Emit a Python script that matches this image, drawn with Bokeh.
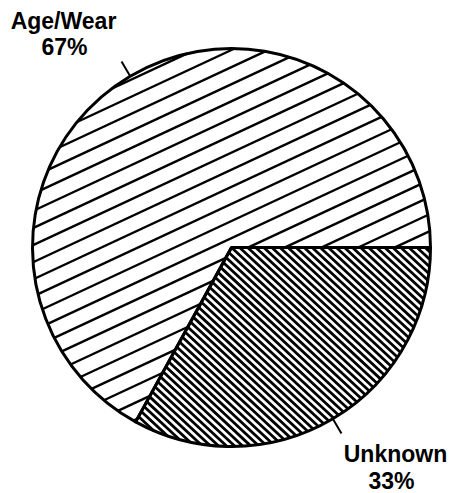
import numpy as np
from bokeh.plotting import figure
from bokeh.models import Range1d
from bokeh.core.properties import value
from bokeh.embed import file_html
from bokeh.resources import INLINE

# Causes and their shares (percent)
labels = ["Age/Wear", "Unknown"]
shares = [67, 33]

W, H = 450, 493
cx, cy, R = 231, 246, 199

p = figure(width=W, height=H, x_range=Range1d(0, W), y_range=Range1d(0, H),
           output_backend="svg", toolbar_location=None, min_border=0,
           outline_line_color=None, background_fill_color="white")
p.axis.visible = False
p.grid.visible = False

# slice angles: "Unknown" runs clockwise from 3 o'clock, "Age/Wear" fills the rest
tot = float(sum(shares))
unk_start = -2 * np.pi * shares[1] / tot
unk_end = 0.0
age_start = 0.0
age_end = 2 * np.pi * shares[0] / tot


def hatch_lines(theta, spacing, phase, clip=None):
    """Parallel lines at angle theta across the disc, optionally clipped to a convex wedge."""
    u = np.array([np.cos(theta), np.sin(theta)])
    n = np.array([-np.sin(theta), np.cos(theta)])
    xs0, ys0, xs1, ys1 = [], [], [], []
    for d in np.arange(-R + phase, R, spacing):
        h = np.sqrt(max(R * R - d * d, 0.0))
        lo, hi = -h, h
        if clip is not None:
            a0, a1 = clip
            # inside: cross(e1, p) <= 0 and cross(e0, p) >= 0
            for ang, sign in ((a1, -1.0), (a0, 1.0)):
                e = np.array([np.cos(ang), np.sin(ang)])
                cn = e[0] * n[1] - e[1] * n[0]
                cu = e[0] * u[1] - e[1] * u[0]
                a = sign * cu
                b = sign * d * cn
                if abs(a) < 1e-12:
                    if b < 0:
                        lo, hi = 1, 0
                    continue
                t0 = -b / a
                if a > 0:
                    lo = max(lo, t0)
                else:
                    hi = min(hi, t0)
        if hi - lo < 0.5:
            continue
        p0 = np.array([cx, cy]) + d * n + lo * u
        p1 = np.array([cx, cy]) + d * n + hi * u
        xs0.append(p0[0]); ys0.append(p0[1]); xs1.append(p1[0]); ys1.append(p1[1])
    return xs0, ys0, xs1, ys1


# Age/Wear: sparse rising hatch across the whole disc
x0, y0, x1, y1 = hatch_lines(np.radians(25), 15.5, 6.0)
p.segment(x0=x0, y0=y0, x1=x1, y1=y1, line_color="black", line_width=2.4)

# Unknown slice: white base then dense falling hatch
p.wedge(x=cx, y=cy, radius=R, start_angle=unk_start, end_angle=unk_end,
        fill_color="white", line_color=None)
x0, y0, x1, y1 = hatch_lines(np.radians(-43), 5.5, 1.0, clip=(unk_start, unk_end))
p.segment(x0=x0, y0=y0, x1=x1, y1=y1, line_color="black", line_width=2.8)

# slice outlines
p.wedge(x=cx, y=cy, radius=R, start_angle=[age_start, unk_start],
        end_angle=[age_end, unk_end], fill_color=None,
        line_color="black", line_width=3)

# leader ticks at slice mid-angles
mids = [(age_start + age_end) / 2, (unk_start + unk_end) / 2]
lx0 = [cx + R * np.cos(m) for m in mids]
ly0 = [cy + R * np.sin(m) for m in mids]
lx1 = [cx + (R + 17) * np.cos(m) for m in mids]
ly1 = [cy + (R + 17) * np.sin(m) for m in mids]
p.segment(x0=lx0, y0=ly0, x1=lx1, y1=ly1, line_color="black", line_width=2)

# labels
font = value("Liberation Sans")
p.text(x=[63, 395], y=[473, 40], text=labels, text_font=font, text_font_style="bold",
       text_font_size="23px", text_align="center", text_baseline="alphabetic",
       text_color="black")
p.text(x=[64, 391], y=[447, 13], text=[f"{s}%" for s in shares], text_font=font,
       text_font_style="bold", text_font_size="23px", text_align="center",
       text_baseline="alphabetic", text_color="black")

open("out.html", "w").write(file_html(p, INLINE))
